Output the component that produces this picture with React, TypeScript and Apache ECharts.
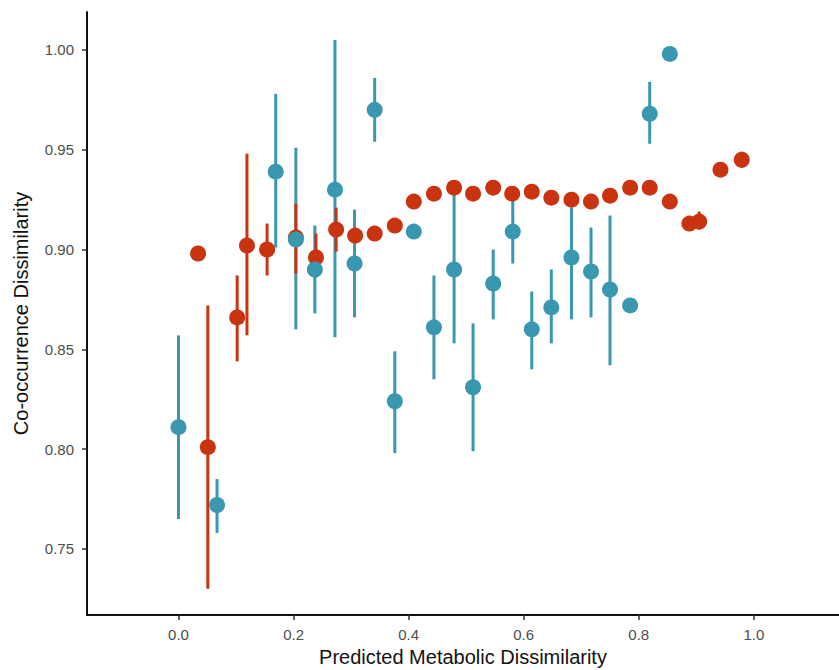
import React, { useEffect, useRef } from "react";
import * as echarts from "echarts";

const xTicks = [0, 0.2, 0.4, 0.6, 0.8, 1.0];
const yTicks = [0.75, 0.8, 0.85, 0.9, 0.95, 1.0];

const blueX = [0.0, 0.067, 0.169, 0.204, 0.237, 0.272, 0.306, 0.341, 0.376, 0.409, 0.444, 0.479, 0.512, 0.547, 0.581, 0.614, 0.648, 0.683, 0.717, 0.75, 0.785, 0.819, 0.854];
const blueY = [0.811, 0.772, 0.939, 0.905, 0.89, 0.93, 0.893, 0.97, 0.824, 0.909, 0.861, 0.89, 0.831, 0.883, 0.909, 0.86, 0.871, 0.896, 0.889, 0.88, 0.872, 0.968, 0.998];
const blueLo = [0.765, 0.758, 0.901, 0.86, 0.868, 0.856, 0.866, 0.954, 0.798, null, 0.835, 0.853, 0.799, 0.865, 0.893, 0.84, 0.853, 0.865, 0.866, 0.842, null, 0.953, null];
const blueHi = [0.857, 0.785, 0.978, 0.951, 0.912, 1.005, 0.92, 0.986, 0.849, null, 0.887, 0.93, 0.863, 0.9, 0.927, 0.879, 0.89, 0.921, 0.911, 0.917, null, 0.984, null];

const redX = [0.034, 0.051, 0.102, 0.119, 0.154, 0.204, 0.239, 0.274, 0.307, 0.341, 0.376, 0.409, 0.444, 0.479, 0.512, 0.547, 0.58, 0.614, 0.648, 0.683, 0.717, 0.75, 0.785, 0.819, 0.854, 0.888, 0.905, 0.942, 0.979];
const redY = [0.898, 0.801, 0.866, 0.902, 0.9, 0.906, 0.896, 0.91, 0.907, 0.908, 0.912, 0.924, 0.928, 0.931, 0.928, 0.931, 0.928, 0.929, 0.926, 0.925, 0.924, 0.927, 0.931, 0.931, 0.924, 0.913, 0.914, 0.94, 0.945];
const redLo = [null, 0.73, 0.844, 0.857, 0.887, 0.888, 0.886, 0.899, null, null, null, null, null, null, null, null, null, null, null, null, null, null, null, null, null, null, 0.91, null, 0.941];
const redHi = [null, 0.872, 0.887, 0.948, 0.913, 0.923, 0.908, 0.921, null, null, null, null, null, null, null, null, null, null, null, null, null, null, null, null, null, null, 0.919, null, 0.949];

const BLUE = "#3A97B0";
const RED = "#C9330F";

function errData(xs: number[], lo: (number | null)[], hi: (number | null)[]) {
  const out: number[][] = [];
  xs.forEach((x, i) => {
    if (lo[i] != null && hi[i] != null) out.push([x, lo[i] as number, hi[i] as number]);
  });
  return out;
}

function errSeries(data: number[][], color: string, z: number) {
  return {
    type: "custom",
    z,
    data,
    encode: { x: 0, y: [1, 2] },
    renderItem: (params: any, api: any) => {
      const x = api.value(0);
      const p1 = api.coord([x, api.value(1)]);
      const p2 = api.coord([x, api.value(2)]);
      return {
        type: "line",
        shape: { x1: p1[0], y1: p1[1], x2: p2[0], y2: p2[1] },
        style: { stroke: color, lineWidth: 3 },
      };
    },
  };
}

export default function App() {
  const ref = useRef<HTMLDivElement>(null);
  useEffect(() => {
    document.body.style.margin = "0";
    const chart = echarts.init(ref.current!, null, { renderer: "svg" });
    const labelColor = "#4D4D4D";
    chart.setOption({
      animation: false,
      backgroundColor: "#ffffff",
      grid: { left: 87, right: 0, top: 12, bottom: 55, outerBoundsMode: "none", containLabel: false },
      xAxis: {
        type: "value",
        min: -0.159,
        max: 1.148,
        name: "Predicted Metabolic Dissimilarity",
        nameLocation: "middle",
        nameGap: 32,
        nameTextStyle: { fontSize: 20, color: "#111", fontFamily: "Liberation Sans" },
        splitLine: { show: false },
        axisLine: { onZero: false, lineStyle: { color: "#111", width: 2 } },
        axisTick: { customValues: xTicks, length: 5, lineStyle: { color: "#333", width: 1.5 } },
        axisLabel: {
          customValues: xTicks,
          formatter: (v: number) => v.toFixed(1),
          fontSize: 15,
          color: labelColor,
          margin: 12,
          fontFamily: "Liberation Sans",
        },
      },
      yAxis: {
        type: "value",
        min: 0.7169,
        max: 1.019,
        name: "Co-occurrence Dissimilarity",
        nameLocation: "middle",
        nameGap: 56,
        nameTextStyle: { fontSize: 20, color: "#111", fontFamily: "Liberation Sans" },
        splitLine: { show: false },
        axisLine: { onZero: false, lineStyle: { color: "#111", width: 2 } },
        axisTick: { customValues: yTicks, length: 5, lineStyle: { color: "#333", width: 1.5 } },
        axisLabel: {
          customValues: yTicks,
          formatter: (v: number) => v.toFixed(2),
          fontSize: 15,
          color: labelColor,
          margin: 13,
          fontFamily: "Liberation Sans",
        },
      },
      series: [
        errSeries(errData(blueX, blueLo, blueHi), BLUE, 1),
        errSeries(errData(redX, redLo, redHi), RED, 2),
        {
          type: "scatter",
          z: 3,
          symbolSize: 16,
          itemStyle: { color: RED, opacity: 1 },
          data: redX.map((x, i) => [x, redY[i]]),
        },
        {
          type: "scatter",
          z: 4,
          symbolSize: 16,
          itemStyle: { color: BLUE, opacity: 1 },
          data: blueX.map((x, i) => [x, blueY[i]]),
        },
      ],
    });
    return () => chart.dispose();
  }, []);
  return <div ref={ref} style={{ width: 839, height: 670 }} />;
}
